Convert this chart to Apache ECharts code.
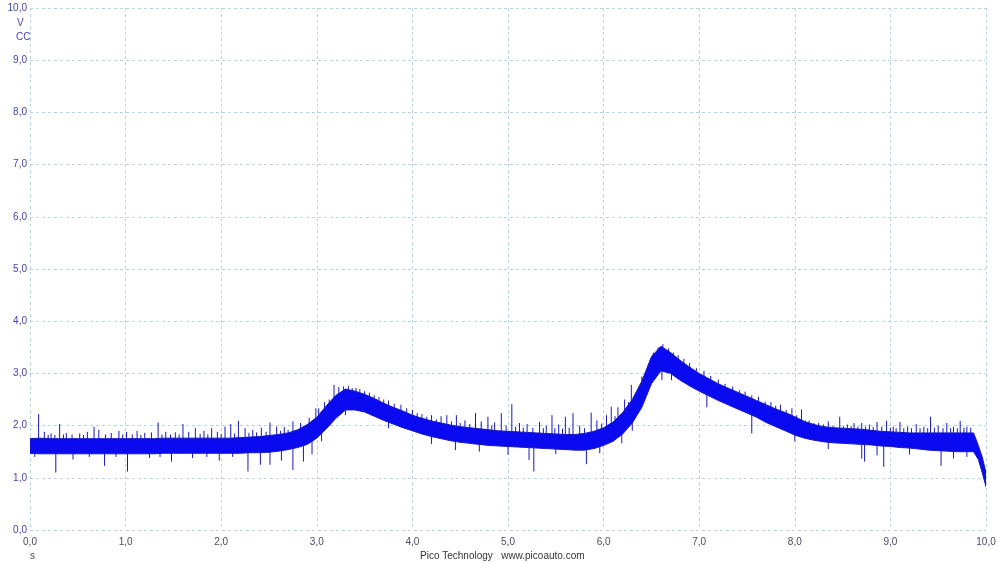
<!DOCTYPE html>
<html><head><meta charset="utf-8">
<script src="https://cdn.jsdelivr.net/npm/echarts@6/dist/echarts.min.js"></script>
<style>html,body{margin:0;padding:0;background:#fff}#c{width:1000px;height:563px}</style>
</head><body><div id="c"></div>
<script>
// time samples (s)
const times = [0,0.1,0.2,0.3,0.4,0.5,0.6,0.7,0.8,0.9,1.0,1.1,1.2,1.3,1.4,1.5,1.6,1.7,1.8,1.9,2.0,2.1,2.2,2.3,2.4,2.5,2.6,2.7,2.8,2.9,3.0,3.1,3.2,3.3,3.4,3.5,3.6,3.7,3.8,3.9,4.0,4.1,4.2,4.3,4.4,4.5,4.6,4.7,4.8,4.9,5.0,5.1,5.2,5.3,5.4,5.5,5.6,5.7,5.8,5.9,6.0,6.1,6.2,6.3,6.4,6.5,6.6,6.7,6.8,6.9,7.0,7.1,7.2,7.3,7.4,7.5,7.6,7.7,7.8,7.9,8.0,8.1,8.2,8.3,8.4,8.5,8.6,8.7,8.8,8.9,9.0,9.1,9.2,9.3,9.4,9.5,9.6,9.7,9.8,9.87,9.92,9.96,10.0];
// lower edge of the noise band (V)
const bandLow = [1.47,1.46,1.46,1.46,1.46,1.46,1.46,1.46,1.46,1.46,1.46,1.46,1.46,1.46,1.47,1.47,1.47,1.47,1.47,1.47,1.47,1.47,1.47,1.48,1.48,1.49,1.51,1.54,1.58,1.64,1.76,1.94,2.14,2.30,2.30,2.26,2.18,2.10,2.03,1.96,1.90,1.84,1.79,1.75,1.71,1.68,1.66,1.64,1.62,1.61,1.60,1.59,1.58,1.57,1.56,1.55,1.54,1.53,1.53,1.56,1.62,1.70,1.84,2.05,2.35,2.80,3.05,3.00,2.87,2.76,2.66,2.57,2.48,2.40,2.32,2.24,2.16,2.06,1.98,1.90,1.82,1.76,1.72,1.69,1.67,1.66,1.65,1.64,1.63,1.61,1.60,1.58,1.57,1.55,1.53,1.52,1.51,1.50,1.50,1.50,1.35,1.10,0.83];
// upper edge of the noise band (V)
const bandHigh = [1.75,1.76,1.75,1.75,1.75,1.75,1.75,1.75,1.75,1.75,1.75,1.75,1.75,1.75,1.76,1.76,1.76,1.76,1.76,1.76,1.76,1.76,1.77,1.78,1.79,1.81,1.83,1.86,1.92,2.02,2.16,2.38,2.58,2.70,2.66,2.60,2.52,2.43,2.35,2.28,2.20,2.14,2.09,2.05,2.01,1.98,1.96,1.94,1.92,1.90,1.89,1.88,1.87,1.86,1.85,1.84,1.83,1.83,1.85,1.89,1.96,2.07,2.25,2.50,2.85,3.32,3.52,3.40,3.25,3.12,3.00,2.90,2.80,2.72,2.64,2.56,2.48,2.40,2.32,2.25,2.17,2.08,2.02,1.98,1.96,1.95,1.94,1.93,1.91,1.89,1.88,1.87,1.86,1.86,1.86,1.86,1.86,1.86,1.86,1.86,1.62,1.40,1.10];
// upward spikes [t, peak V]
const spikesUp = [[0.09,2.22],[0.15,1.88],[0.19,1.82],[0.22,1.85],[0.26,1.82],[0.31,2.03],[0.35,1.83],[0.38,1.86],[0.44,1.83],[0.52,1.85],[0.56,1.82],[0.60,1.88],[0.67,1.98],[0.72,1.92],[0.79,1.83],[0.85,1.86],[0.93,1.90],[0.97,1.83],[1.01,1.88],[1.07,1.83],[1.12,1.90],[1.16,1.82],[1.20,1.86],[1.27,1.87],[1.34,2.06],[1.38,1.83],[1.42,1.88],[1.47,1.83],[1.52,1.87],[1.56,1.83],[1.60,2.03],[1.66,1.88],[1.73,1.95],[1.78,1.84],[1.82,1.90],[1.86,1.83],[1.90,1.95],[1.96,1.88],[2.00,1.84],[2.04,1.98],[2.10,2.03],[2.14,1.85],[2.18,2.09],[2.25,1.95],[2.29,1.86],[2.33,1.92],[2.37,1.87],[2.42,1.96],[2.47,1.88],[2.51,2.06],[2.58,1.98],[2.62,1.90],[2.66,1.97],[2.70,1.92],[2.75,2.08],[2.83,2.05],[2.88,2.00],[2.92,2.15],[2.99,2.33],[3.02,2.33],[3.08,2.45],[3.13,2.50],[3.18,2.78],[3.23,2.74],[3.28,2.75],[3.33,2.76],[3.37,2.72],[3.41,2.72],[3.45,2.70],[3.50,2.66],[3.55,2.63],[3.60,2.58],[3.65,2.55],[3.70,2.50],[3.75,2.48],[3.81,2.42],[3.88,2.40],[3.94,2.33],[4.00,2.30],[4.05,2.24],[4.10,2.22],[4.15,2.17],[4.20,2.20],[4.25,2.12],[4.30,2.18],[4.36,2.20],[4.41,2.08],[4.46,2.20],[4.50,2.05],[4.55,2.10],[4.60,2.03],[4.66,2.24],[4.72,2.08],[4.79,2.17],[4.83,2.00],[4.86,2.06],[4.93,2.24],[4.98,2.00],[5.04,2.41],[5.08,1.98],[5.12,2.05],[5.16,1.96],[5.20,2.03],[5.26,1.96],[5.33,2.07],[5.37,1.95],[5.40,2.00],[5.46,2.20],[5.49,1.95],[5.53,2.02],[5.57,1.94],[5.60,2.17],[5.64,1.96],[5.68,2.24],[5.75,2.00],[5.80,1.95],[5.87,2.25],[5.93,2.10],[5.98,2.04],[6.03,2.20],[6.08,2.36],[6.12,2.18],[6.15,2.35],[6.22,2.50],[6.26,2.45],[6.29,2.78],[6.35,2.66],[6.40,2.94],[6.45,3.00],[6.52,3.40],[6.57,3.50],[6.62,3.56],[6.68,3.48],[6.73,3.40],[6.78,3.35],[6.84,3.28],[6.90,3.20],[6.97,3.10],[7.05,3.05],[7.12,2.95],[7.20,2.88],[7.27,2.80],[7.35,2.75],[7.42,2.68],[7.48,2.65],[7.55,2.58],[7.62,2.55],[7.69,2.46],[7.75,2.45],[7.80,2.38],[7.85,2.40],[7.91,2.30],[7.97,2.33],[8.02,2.20],[8.07,2.31],[8.11,2.10],[8.15,2.10],[8.20,2.05],[8.25,2.05],[8.30,2.02],[8.35,2.08],[8.40,2.00],[8.47,2.17],[8.51,1.99],[8.55,2.02],[8.59,1.99],[8.62,2.05],[8.66,1.98],[8.70,2.05],[8.74,1.98],[8.78,2.02],[8.82,1.97],[8.86,2.07],[8.91,1.98],[8.96,2.09],[9.00,1.96],[9.03,1.98],[9.06,1.95],[9.10,2.07],[9.14,1.95],[9.18,1.98],[9.22,1.95],[9.27,2.03],[9.31,1.95],[9.35,1.98],[9.39,1.95],[9.42,2.17],[9.46,1.96],[9.50,2.00],[9.55,1.95],[9.59,2.05],[9.63,1.95],[9.66,1.98],[9.70,1.95],[9.73,2.09],[9.77,1.96],[9.80,1.98],[9.84,1.96]];
// downward spikes [t, trough V]
const spikesDown = [[0.05,1.40],[0.27,1.10],[0.45,1.35],[0.62,1.40],[0.78,1.23],[0.90,1.40],[1.02,1.12],[1.25,1.38],[1.36,1.40],[1.48,1.31],[1.70,1.38],[1.85,1.40],[1.98,1.33],[2.12,1.40],[2.28,1.12],[2.41,1.25],[2.51,1.25],[2.63,1.33],[2.75,1.15],[2.86,1.31],[2.95,1.45],[3.05,1.70],[3.30,2.20],[3.75,1.95],[4.20,1.65],[4.45,1.53],[4.70,1.50],[5.00,1.44],[5.22,1.34],[5.27,1.12],[5.50,1.45],[5.82,1.26],[5.96,1.47],[6.19,1.66],[6.30,1.90],[6.61,2.87],[6.71,2.87],[7.08,2.35],[7.55,1.85],[8.00,1.70],[8.35,1.55],[8.70,1.37],[8.73,1.31],[8.86,1.43],[8.93,1.21],[9.20,1.45],[9.53,1.23],[9.66,1.37],[9.80,1.40]];
// axis ticks
const xTicks = [0,1,2,3,4,5,6,7,8,9,10];
const yTicks = [0,1,2,3,4,5,6,7,8,9,10];

function bandMid(t){
  for (let i=0;i<times.length-1;i++){
    if (t>=times[i] && t<=times[i+1]){
      const f=(t-times[i])/(times[i+1]-times[i]);
      const lo=bandLow[i]+f*(bandLow[i+1]-bandLow[i]);
      const hi=bandHigh[i]+f*(bandHigh[i+1]-bandHigh[i]);
      return (lo+hi)/2;
    }
  }
  return (bandLow[0]+bandHigh[0])/2;
}
const fmt = v => v.toFixed(1).replace('.', ',');
const BLUE = '#0a0af0';
const EDGE = '#1818c0';
const FONT = '10px "Liberation Sans", Arial, sans-serif';
const chart = echarts.init(document.getElementById('c'), null, {renderer:'canvas'});
const bandData = times.map((t,i)=>[t, bandLow[i], bandHigh[i]]);
const spikeData = spikesUp.concat(spikesDown);
chart.setOption({
  animation:false,
  backgroundColor:'#ffffff',
  grid:{left:30,right:14,top:8,bottom:33,containLabel:false},
  xAxis:{type:'value',min:xTicks[0],max:xTicks[xTicks.length-1],interval:1,
    axisLine:{show:false},axisTick:{show:false},
    axisLabel:{formatter:fmt,color:'#4a4a66',fontSize:10,fontFamily:'Liberation Sans, Arial, sans-serif',margin:7,showMinLabel:true,showMaxLabel:true},
    splitLine:{show:true,lineStyle:{color:'#b8d4e4',type:[3,3],width:1}}},
  yAxis:{type:'value',min:yTicks[0],max:yTicks[yTicks.length-1],interval:1,
    axisLine:{show:false},axisTick:{show:false},
    axisLabel:{formatter:fmt,color:'#4444aa',fontSize:10,fontFamily:'Liberation Sans, Arial, sans-serif',margin:3},
    splitLine:{show:true,lineStyle:{color:'#b8d4e4',type:[3,3],width:1}}},
  series:[
    {type:'custom',data:spikeData,clip:true,z:2,
     renderItem:function(params,api){
       const t=api.value(0), v=api.value(1);
       const a=api.coord([t,bandMid(t)]), b=api.coord([t,v]);
       return {type:'line',shape:{x1:a[0],y1:a[1],x2:b[0],y2:b[1]},style:{stroke:EDGE,lineWidth:1}};
     }},
    {type:'custom',data:bandData,clip:true,z:3,
     renderItem:function(params,api){
       if(params.dataIndex!==0) return null;
       const pts=[];
       for(let i=0;i<times.length;i++) pts.push(api.coord([times[i],bandLow[i]]));
       for(let i=times.length-1;i>=0;i--) pts.push(api.coord([times[i],bandHigh[i]]));
       return {type:'polygon',shape:{points:pts},style:{fill:BLUE,stroke:EDGE,lineWidth:1}};
     }}
  ],
  graphic:[
    {type:'text',left:17,top:18,style:{text:'V',fill:'#4444aa',font:FONT}},
    {type:'text',left:16,top:32,style:{text:'CC',fill:'#4444aa',font:FONT}},
    {type:'text',left:30,top:551,style:{text:'s',fill:'#444',font:FONT}},
    {type:'text',left:420,top:551,style:{text:'Pico Technology   www.picoauto.com',fill:'#333',font:FONT}}
  ]
});
</script></body></html>
